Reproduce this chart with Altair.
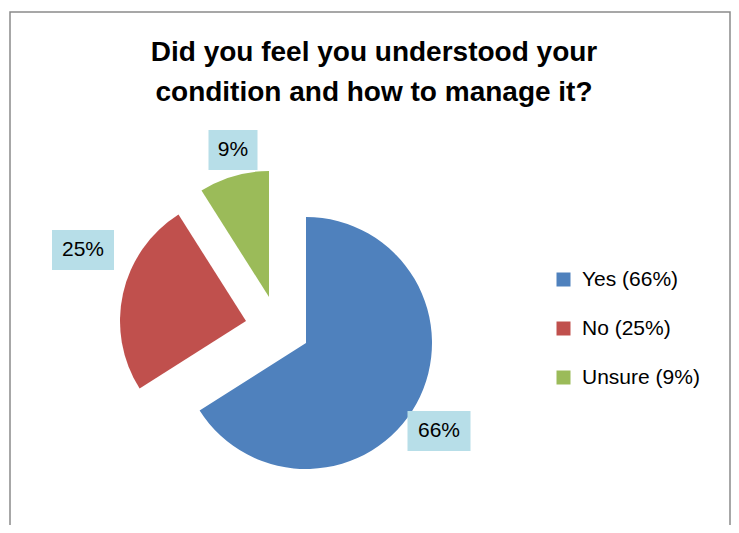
import altair as alt
import pandas as pd

# ---- data ----
categories = ["Yes", "No", "Unsure"]
values = [66, 25, 9]
legend_labels = ["Yes (66%)", "No (25%)", "Unsure (9%)"]
slice_labels = ["66%", "25%", "9%"]
title_lines = ["Did you feel you understood your", "condition and how to manage it?"]

# ---- style / layout (chart coords; page = chart + 8) ----
colors = ["#4F81BD", "#C0504D", "#9BBB59"]
W, H = 723, 517
CX, CY, R = 298, 335, 126
explode_dx = [0, -60, -37]
explode_dy = [0, -22, -46]
label_dx = [133, -163, -36]
label_dy = [88, -71, -147]
box_w = [63, 62, 49]
BOX_H = 40
FONT = "Liberation Sans"

df = pd.DataFrame({
    "category": categories,
    "value": values,
    "order": list(range(len(categories))),
    "legend": legend_labels,
    "label": slice_labels,
    "edx": explode_dx,
    "edy": explode_dy,
    "ldx": label_dx,
    "ldy": label_dy,
    "bw": box_w,
})

base = (
    alt.Chart(df)
    .transform_window(cum="sum(value)", sort=[alt.SortField("order")], frame=[None, 0])
    .transform_joinaggregate(total="sum(value)")
    .transform_calculate(
        a0="(datum.cum - datum.value) / datum.total * 2 * PI",
        a1="datum.cum / datum.total * 2 * PI",
        cx=f"{CX} + datum.edx",
        cy=f"{CY} + datum.edy",
        lx=f"{CX} + datum.edx + datum.ldx",
        ly=f"{CY} + datum.edy + datum.ldy",
    )
    .transform_calculate(
        bx0="datum.lx - datum.bw / 2",
        bx1="datum.lx + datum.bw / 2",
        by0=f"datum.ly - {BOX_H / 2}",
        by1=f"datum.ly + {BOX_H / 2}",
    )
)

arcs = base.mark_arc(outerRadius=R).encode(
    theta=alt.Theta("a0:Q", scale=None),
    theta2=alt.Theta2("a1:Q"),
    x=alt.X("cx:Q", scale=None, axis=None),
    y=alt.Y("cy:Q", scale=None, axis=None),
    color=alt.Color(
        "legend:N",
        scale=alt.Scale(domain=legend_labels, range=colors),
        legend=alt.Legend(
            title=None,
            orient="none",
            legendX=545,
            legendY=261,
            symbolType="square",
            symbolSize=196,
            symbolStrokeWidth=0,
            labelFontSize=21,
            labelFont=FONT,
            labelColor="#000000",
            labelOffset=8,
            rowPadding=27,
            padding=0,
        ),
    ),
)

boxes = base.mark_rect(color="#B7DEE8").encode(
    x=alt.X("bx0:Q", scale=None, axis=None),
    x2="bx1:Q",
    y=alt.Y("by0:Q", scale=None, axis=None),
    y2="by1:Q",
)

labels = base.mark_text(font=FONT, fontSize=21, color="#000000", baseline="middle", align="center").encode(
    x=alt.X("lx:Q", scale=None, axis=None),
    y=alt.Y("ly:Q", scale=None, axis=None),
    text="label:N",
)

border = alt.Chart(pd.DataFrame({"k": [0]})).mark_rect(
    fill="#ffffff", stroke="#8a8a8a", strokeWidth=1.5
).encode(
    x=alt.value(2), x2=alt.value(722), y=alt.value(4), y2=alt.value(560)
)

title_df = pd.DataFrame({"line": title_lines, "i": list(range(len(title_lines)))})
title = (
    alt.Chart(title_df)
    .transform_calculate(ty="53 + datum.i * 40")
    .mark_text(font=FONT, fontSize=28, fontWeight="bold", color="#000000", align="center", baseline="alphabetic")
    .encode(
        x=alt.value(366),
        y=alt.Y("ty:Q", scale=None, axis=None),
        text="line:N",
    )
)

chart = (
    alt.layer(border, arcs, boxes, labels, title)
    .properties(width=W, height=H, autosize="none", padding=0, background="#ffffff")
    .configure_view(stroke=None)
)

chart.save("out.html", embed_options={"renderer": "svg", "actions": False})
